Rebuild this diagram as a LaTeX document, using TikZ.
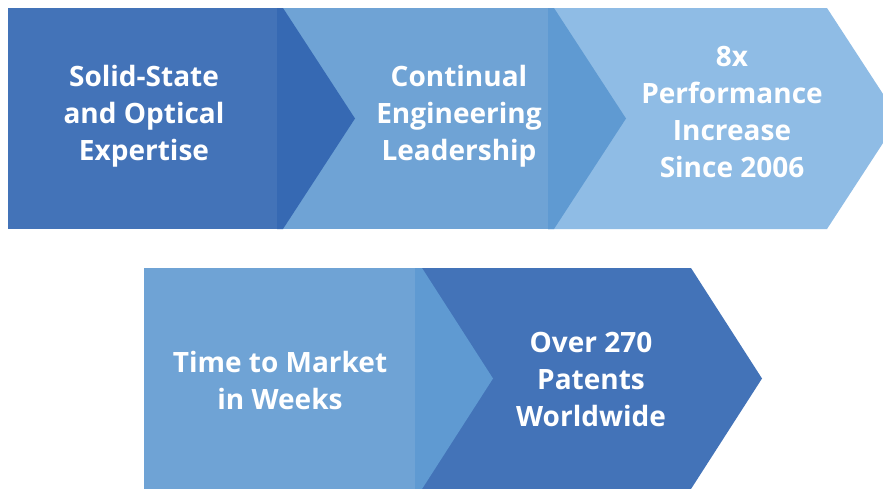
\documentclass[tikz,border=0pt]{standalone}
\usepackage{fontspec}
\setmainfont{Open Sans}
\definecolor{deepblue}{HTML}{4373B8}
\definecolor{deeptip}{HTML}{3669B3}
\definecolor{midblue}{HTML}{6FA3D5}
\definecolor{midtip}{HTML}{5F9AD2}
\definecolor{paleblue}{HTML}{8FBCE5}
\tikzset{steptext/.style={text=white,font=\bfseries\fontsize{28}{37}\selectfont,align=center,inner sep=0pt}}
\begin{document}
\begin{tikzpicture}[x=1pt,y=-1pt]
\clip (0,0) rectangle (883,488);
\fill[white] (0,0) rectangle (883,488);
\fill[deepblue] (8,8) rectangle (278,229);
\fill[midblue] (277,8) rectangle (549,229);
\fill[deeptip] (277,8) -- (283,8) -- (355,118.5) -- (283,229) -- (277,229) -- cycle;
\fill[paleblue] (548,8) -- (827,8) -- (899,118.5) -- (827,229) -- (548,229) -- cycle;
\fill[midtip] (548,8) -- (554,8) -- (626,118.5) -- (554,229) -- (548,229) -- cycle;
\fill[midblue] (144,268) rectangle (416,489);
\fill[deepblue] (415,268) -- (691,268) -- (762,378.5) -- (691,489) -- (415,489) -- cycle;
\fill[midtip] (415,268) -- (422,268) -- (493,378.5) -- (422,489) -- (415,489) -- cycle;
\node[steptext] (expertise) at (144,116) {Solid-State\\and Optical\\Expertise};
\node[steptext] (leadership) at (459,116) {Continual\\Engineering\\Leadership};
\node[steptext] (performance) at (732,112) {8x\\Performance\\Increase\\Since 2006};
\node[steptext] (market) at (280,380) {Time to Market\\in Weeks};
\node[steptext] (patents) at (591,379) {Over 270\\Patents\\Worldwide};
\end{tikzpicture}
\end{document}
